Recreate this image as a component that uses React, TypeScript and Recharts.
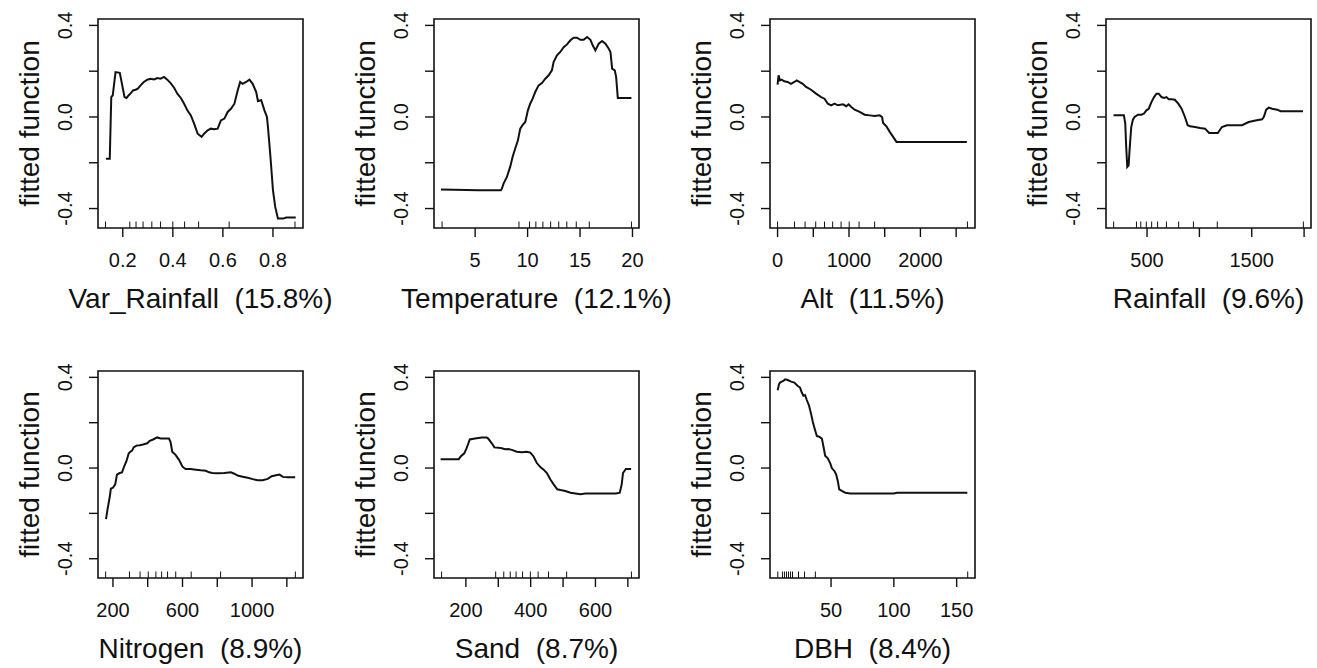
import React from 'react';
import { ComposedChart, Line, Scatter, XAxis, YAxis, ReferenceArea } from 'recharts';

const FONT = '"Liberation Sans", Arial, Helvetica, sans-serif';
const INK = '#111';

// ---------- shared y axis ----------
const yDomain: [number, number] = [-0.485, 0.428];
const yTicks = [-0.4, -0.2, 0, 0.2, 0.4];
const yTickLabels = ['-0.4', '', '0.0', '', '0.4'];
const yTitle = 'fitted function';

// ---------- Var_Rainfall ----------
const varRainTitle = 'Var_Rainfall  (15.8%)';
const varRainDomain: [number, number] = [0.101, 0.92];
const varRainTicks = [0.2, 0.4, 0.6, 0.8];
const varRainTickLabels = ['0.2', '0.4', '0.6', '0.8'];
const varRainRug = [0.131, 0.228, 0.253, 0.281, 0.316, 0.351, 0.4, 0.447, 0.503, 0.625, 0.888];
const varRainCurve = [
  [0.133, -0.182], [0.148, -0.182], [0.154, 0.087], [0.16, 0.095], [0.171, 0.196], [0.188, 0.193],
  [0.207, 0.087], [0.215, 0.083], [0.224, 0.095], [0.233, 0.105], [0.241, 0.116], [0.251, 0.119],
  [0.26, 0.124], [0.271, 0.138], [0.284, 0.153], [0.298, 0.163], [0.311, 0.167], [0.325, 0.164],
  [0.338, 0.17], [0.351, 0.167], [0.365, 0.175], [0.378, 0.163], [0.391, 0.148], [0.405, 0.128],
  [0.418, 0.102], [0.432, 0.083], [0.445, 0.058], [0.458, 0.029], [0.472, 0.007], [0.485, -0.029],
  [0.499, -0.073], [0.515, -0.087], [0.525, -0.073], [0.539, -0.058], [0.552, -0.051], [0.565, -0.054],
  [0.579, -0.051], [0.592, -0.015], [0.606, -0.007], [0.619, 0.022], [0.632, 0.036], [0.646, 0.058],
  [0.659, 0.116], [0.669, 0.153], [0.679, 0.145], [0.693, 0.153], [0.706, 0.163], [0.719, 0.145],
  [0.733, 0.109], [0.74, 0.07], [0.753, 0.073], [0.766, 0.029], [0.776, 0.0], [0.78, -0.044],
  [0.79, -0.175], [0.8, -0.32], [0.809, -0.393], [0.82, -0.444], [0.84, -0.444], [0.853, -0.439],
  [0.891, -0.439],
];

// ---------- Temperature ----------
const tempTitle = 'Temperature  (12.1%)';
const tempDomain: [number, number] = [1.08, 20.62];
const tempTicks = [5, 10, 15, 20];
const tempTickLabels = ['5', '10', '15', '20'];
const tempRug = [1.85, 9.18, 10.19, 10.79, 11.46, 12.2, 12.97, 13.74, 14.64, 15.88, 19.9];
const tempCurve = [
  [1.75, -0.317], [5.32, -0.32], [7.45, -0.32], [7.55, -0.313], [7.71, -0.291], [8.03, -0.262],
  [8.34, -0.218], [8.57, -0.175], [8.82, -0.138], [9.08, -0.102], [9.3, -0.051], [9.52, -0.036],
  [9.78, -0.022], [10.03, 0.029], [10.25, 0.058], [10.48, 0.08], [10.73, 0.109], [11.05, 0.138],
  [11.37, 0.148], [11.69, 0.167], [12.01, 0.182], [12.32, 0.204], [12.48, 0.24], [12.8, 0.269],
  [13.12, 0.284], [13.44, 0.305], [13.76, 0.317], [14.08, 0.335], [14.39, 0.346], [14.71, 0.346],
  [15.03, 0.337], [15.35, 0.337], [15.67, 0.349], [15.99, 0.337], [16.21, 0.313], [16.46, 0.291],
  [16.78, 0.32], [17.1, 0.332], [17.42, 0.32], [17.74, 0.298], [17.9, 0.284], [18.06, 0.211],
  [18.31, 0.204], [18.44, 0.175], [18.6, 0.083], [19.9, 0.083],
];

// ---------- Alt ----------
const altTitle = 'Alt  (11.5%)';
const altDomain: [number, number] = [-106, 2764];
const altTicks = [0, 500, 1000, 1500, 2000, 2500];
const altTickLabels = ['0', '', '1000', '', '2000', ''];
const altRug = [0, 237, 385, 534, 657, 771, 889, 1003, 1141, 1359, 2658];
const altCurve = [
  [0, 0.141], [14, 0.182], [33, 0.16], [56, 0.163], [94, 0.156], [141, 0.153], [188, 0.145],
  [235, 0.153], [267, 0.16], [305, 0.153], [352, 0.145], [399, 0.131], [469, 0.119], [539, 0.102],
  [610, 0.087], [657, 0.08], [704, 0.058], [750, 0.051], [797, 0.058], [844, 0.051], [915, 0.055],
  [961, 0.047], [994, 0.055], [1032, 0.044], [1079, 0.032], [1149, 0.022], [1219, 0.01],
  [1290, 0.007], [1360, 0.004], [1430, 0.007], [1463, 0.0], [1477, -0.026], [1524, -0.041],
  [1571, -0.065], [1618, -0.087], [1665, -0.109], [1688, -0.109], [2650, -0.109],
];

// ---------- Rainfall ----------
const rainTitle = 'Rainfall  (9.6%)';
const rainDomain: [number, number] = [108, 2066];
const rainTicks = [500, 1000, 1500, 2000];
const rainTickLabels = ['500', '', '1500', ''];
const rainRug = [181, 399, 440, 493, 544, 601, 685, 802, 943, 1171, 1993];
const rainCurve = [
  [180, 0.007], [279, 0.007], [292, -0.029], [301, -0.131], [311, -0.218], [324, -0.211],
  [333, -0.145], [349, -0.044], [365, -0.012], [381, 0.0], [413, 0.01], [446, 0.01], [471, 0.015],
  [494, 0.029], [516, 0.036], [542, 0.065], [567, 0.087], [590, 0.102], [612, 0.102], [638, 0.087],
  [663, 0.083], [686, 0.087], [708, 0.077], [734, 0.077], [766, 0.075], [798, 0.058], [830, 0.036],
  [862, 0.0], [888, -0.036], [910, -0.041], [958, -0.044], [1006, -0.048], [1054, -0.051],
  [1093, -0.07], [1135, -0.07], [1176, -0.07], [1215, -0.044], [1263, -0.036], [1311, -0.036],
  [1407, -0.036], [1471, -0.022], [1535, -0.015], [1599, -0.01], [1615, 0.0], [1638, 0.032],
  [1663, 0.041], [1695, 0.036], [1744, 0.032], [1776, 0.025], [1824, 0.025], [1990, 0.025],
];

// ---------- Nitrogen ----------
const nitroTitle = 'Nitrogen  (8.9%)';
const nitroDomain: [number, number] = [114, 1293];
const nitroTicks = [200, 400, 600, 800, 1000, 1200];
const nitroTickLabels = ['200', '', '600', '', '1000', ''];
const nitroRug = [158, 295, 356, 403, 447, 480, 514, 561, 650, 819, 1249];
const nitroCurve = [
  [160, -0.225], [169, -0.181], [181, -0.13], [188, -0.091], [200, -0.087], [213, -0.072],
  [223, -0.029], [239, -0.022], [252, -0.019], [266, 0.01], [277, 0.029], [291, 0.065], [300, 0.072],
  [310, 0.077], [319, 0.091], [335, 0.099], [354, 0.101], [373, 0.104], [397, 0.109], [412, 0.12],
  [431, 0.126], [454, 0.135], [474, 0.13], [493, 0.13], [522, 0.13], [531, 0.116], [541, 0.072],
  [560, 0.058], [580, 0.036], [599, 0.007], [609, 0.0], [618, -0.004], [647, -0.004], [666, -0.006],
  [705, -0.01], [734, -0.012], [753, -0.019], [772, -0.022], [801, -0.023], [840, -0.022],
  [878, -0.019], [898, -0.025], [917, -0.033], [946, -0.038], [975, -0.043], [1004, -0.049],
  [1033, -0.054], [1061, -0.054], [1090, -0.048], [1113, -0.036], [1138, -0.032], [1158, -0.029],
  [1177, -0.039], [1206, -0.041], [1248, -0.041],
];

// ---------- Sand ----------
const sandTitle = 'Sand  (8.7%)';
const sandDomain: [number, number] = [101.6, 734.4];
const sandTicks = [200, 300, 400, 500, 600, 700];
const sandTickLabels = ['200', '', '400', '', '600', ''];
const sandRug = [125, 292, 317, 337, 355, 375, 399, 423, 455, 511, 711];
const sandCurve = [
  [122, 0.039], [178, 0.039], [184, 0.051], [195, 0.065], [202, 0.087], [207, 0.106], [212, 0.126],
  [228, 0.13], [249, 0.135], [264, 0.135], [269, 0.13], [280, 0.109], [288, 0.091], [300, 0.09],
  [311, 0.087], [321, 0.083], [331, 0.084], [342, 0.08], [357, 0.072], [373, 0.07], [388, 0.072],
  [399, 0.068], [409, 0.051], [419, 0.022], [430, 0.004], [440, -0.007], [450, -0.022],
  [461, -0.051], [471, -0.072], [482, -0.094], [492, -0.097], [507, -0.101], [523, -0.109],
  [538, -0.112], [554, -0.116], [569, -0.112], [601, -0.112], [632, -0.112], [663, -0.112],
  [675, -0.109], [681, -0.072], [685, -0.022], [694, -0.004], [710, -0.004],
];

// ---------- DBH ----------
const dbhTitle = 'DBH  (8.4%)';
const dbhDomain: [number, number] = [1.4, 164.6];
const dbhTicks = [50, 100, 150];
const dbhTickLabels = ['50', '100', '150'];
const dbhRug = [7.6, 11.3, 12.9, 14.5, 16.1, 17.7, 19.3, 24.1, 28.9, 37.5, 158.8];
const dbhCurve = [
  [7.5, 0.343], [8.6, 0.37], [9.4, 0.377], [10.7, 0.381], [12.0, 0.384], [13.4, 0.391], [15.5, 0.388],
  [18.2, 0.381], [20.8, 0.377], [23.5, 0.362], [25.3, 0.355], [26.7, 0.333], [28.0, 0.319],
  [29.3, 0.322], [30.7, 0.3], [32.5, 0.275], [34.1, 0.239], [35.5, 0.203], [37.3, 0.167],
  [38.7, 0.141], [40.5, 0.138], [42.7, 0.13], [44.0, 0.094], [45.3, 0.054], [47.4, 0.043],
  [49.3, 0.022], [50.6, 0.0], [52.8, -0.014], [54.1, -0.029], [55.4, -0.058], [56.5, -0.094],
  [58.6, -0.101], [61.3, -0.109], [65.3, -0.112], [77.3, -0.112], [90.6, -0.112], [99.9, -0.112],
  [102.6, -0.109], [117.2, -0.109], [158.5, -0.109],
];

type Spec = {
  title: string;
  curve: number[][];
  rug: number[];
  domain: [number, number];
  ticks: number[];
  labels: string[];
  left: number;
  top: number;
  plotH: number;
};

const ROW1 = { top: 0, plotH: 209 };
const ROW2 = { top: 352, plotH: 207 };

const panels: Spec[] = [
  { title: varRainTitle, curve: varRainCurve, rug: varRainRug, domain: varRainDomain, ticks: varRainTicks, labels: varRainTickLabels, left: 0, ...ROW1 },
  { title: tempTitle, curve: tempCurve, rug: tempRug, domain: tempDomain, ticks: tempTicks, labels: tempTickLabels, left: 336, ...ROW1 },
  { title: altTitle, curve: altCurve, rug: altRug, domain: altDomain, ticks: altTicks, labels: altTickLabels, left: 672, ...ROW1 },
  { title: rainTitle, curve: rainCurve, rug: rainRug, domain: rainDomain, ticks: rainTicks, labels: rainTickLabels, left: 1008, ...ROW1 },
  { title: nitroTitle, curve: nitroCurve, rug: nitroRug, domain: nitroDomain, ticks: nitroTicks, labels: nitroTickLabels, left: 0, ...ROW2 },
  { title: sandTitle, curve: sandCurve, rug: sandRug, domain: sandDomain, ticks: sandTicks, labels: sandTickLabels, left: 336, ...ROW2 },
  { title: dbhTitle, curve: dbhCurve, rug: dbhRug, domain: dbhDomain, ticks: dbhTicks, labels: dbhTickLabels, left: 672, ...ROW2 },
];

const PLOT_LEFT = 98;
const PLOT_W = 205;
const TOP = 19;
const TICK = 9;
const PAGE_W = 1317;

function findLabel(ticks: number[], labels: string[], v: number): string {
  for (let i = 0; i < ticks.length; i++) {
    if (Math.abs(ticks[i] - v) < 1e-9) return labels[i];
  }
  return '';
}

const RugTick = (props: any) => {
  const { cx, cy } = props;
  if (cx == null || cy == null) return <g />;
  return <line x1={cx} x2={cx} y1={cy} y2={cy - 6.5} stroke={INK} strokeWidth={1} />;
};

function Panel({ spec }: { spec: Spec }) {
  const chartW = Math.min(336, PAGE_W - spec.left);
  const H = TOP + spec.plotH + (spec.top === 0 ? 102 : 97);
  const xAxisH = H - TOP - spec.plotH;
  const data = spec.curve.map(([x, y]) => ({ x, y }));
  const rugData = spec.rug.map((x) => ({ x, y: yDomain[0] }));
  const bottom = TOP + spec.plotH;

  const renderXTick = (p: any) => {
    const label = findLabel(spec.ticks, spec.labels, p.payload.value);
    if (!label) return <g />;
    return (
      <text x={p.x} y={p.y + 29.5} textAnchor="middle" fontSize={20} fontFamily={FONT} fill={INK}>
        {label}
      </text>
    );
  };
  const renderYTick = (p: any) => {
    const label = findLabel(yTicks, yTickLabels, p.payload.value);
    if (!label) return <g />;
    return (
      <text
        transform={`translate(${p.x - 17},${p.y}) rotate(-90)`}
        textAnchor="middle"
        fontSize={20}
        fontFamily={FONT}
        fill={INK}
      >
        {label}
      </text>
    );
  };
  const xTitle = () => (
    <text
      x={PLOT_LEFT + PLOT_W / 2}
      y={bottom + 79.5}
      textAnchor="middle"
      fontSize={28}
      fontFamily={FONT}
      fill={INK}
      xmlSpace="preserve"
      style={{ whiteSpace: 'pre' }}
    >
      {spec.title}
    </text>
  );
  const yTitleEl = () => (
    <text
      transform={`translate(${PLOT_LEFT - 59},${TOP + spec.plotH / 2}) rotate(-90)`}
      textAnchor="middle"
      fontSize={28}
      fontFamily={FONT}
      fill={INK}
    >
      {yTitle}
    </text>
  );

  return (
    <div style={{ position: 'absolute', left: spec.left, top: spec.top }}>
      <ComposedChart width={chartW} height={H} margin={{ top: TOP, right: chartW - PLOT_LEFT - PLOT_W, left: 0, bottom: 0 }}>
        <XAxis
          type="number"
          dataKey="x"
          domain={spec.domain}
          ticks={spec.ticks}
          interval={0}
          allowDataOverflow
          axisLine={false}
          tickLine={{ stroke: INK, strokeWidth: 1.4 }}
          tickSize={TICK}
          tickMargin={0}
          height={xAxisH}
          tick={renderXTick}
          label={xTitle}
        />
        <YAxis
          type="number"
          dataKey="y"
          domain={yDomain}
          ticks={yTicks}
          interval={0}
          allowDataOverflow
          axisLine={false}
          tickLine={{ stroke: INK, strokeWidth: 1.4 }}
          tickSize={TICK}
          tickMargin={0}
          width={PLOT_LEFT}
          tick={renderYTick}
          label={yTitleEl}
        />
        <ReferenceArea
          x1={spec.domain[0]}
          x2={spec.domain[1]}
          y1={yDomain[0]}
          y2={yDomain[1]}
          fill="none"
          fillOpacity={0}
          stroke={INK}
          strokeWidth={1.6}
          ifOverflow="visible"
        />
        <Scatter data={rugData} dataKey="y" shape={RugTick} isAnimationActive={false} />
        <Line
          data={data}
          dataKey="y"
          type="linear"
          stroke={INK}
          strokeWidth={2}
          dot={false}
          activeDot={false}
          isAnimationActive={false}
        />
      </ComposedChart>
    </div>
  );
}

export default function App() {
  return (
    <div
      style={{
        position: 'absolute',
        left: 0,
        top: 0,
        width: PAGE_W,
        height: 668,
        overflow: 'hidden',
        background: '#fff',
        fontFamily: FONT,
      }}
    >
      {panels.map((p, i) => (
        <Panel key={i} spec={p} />
      ))}
    </div>
  );
}
